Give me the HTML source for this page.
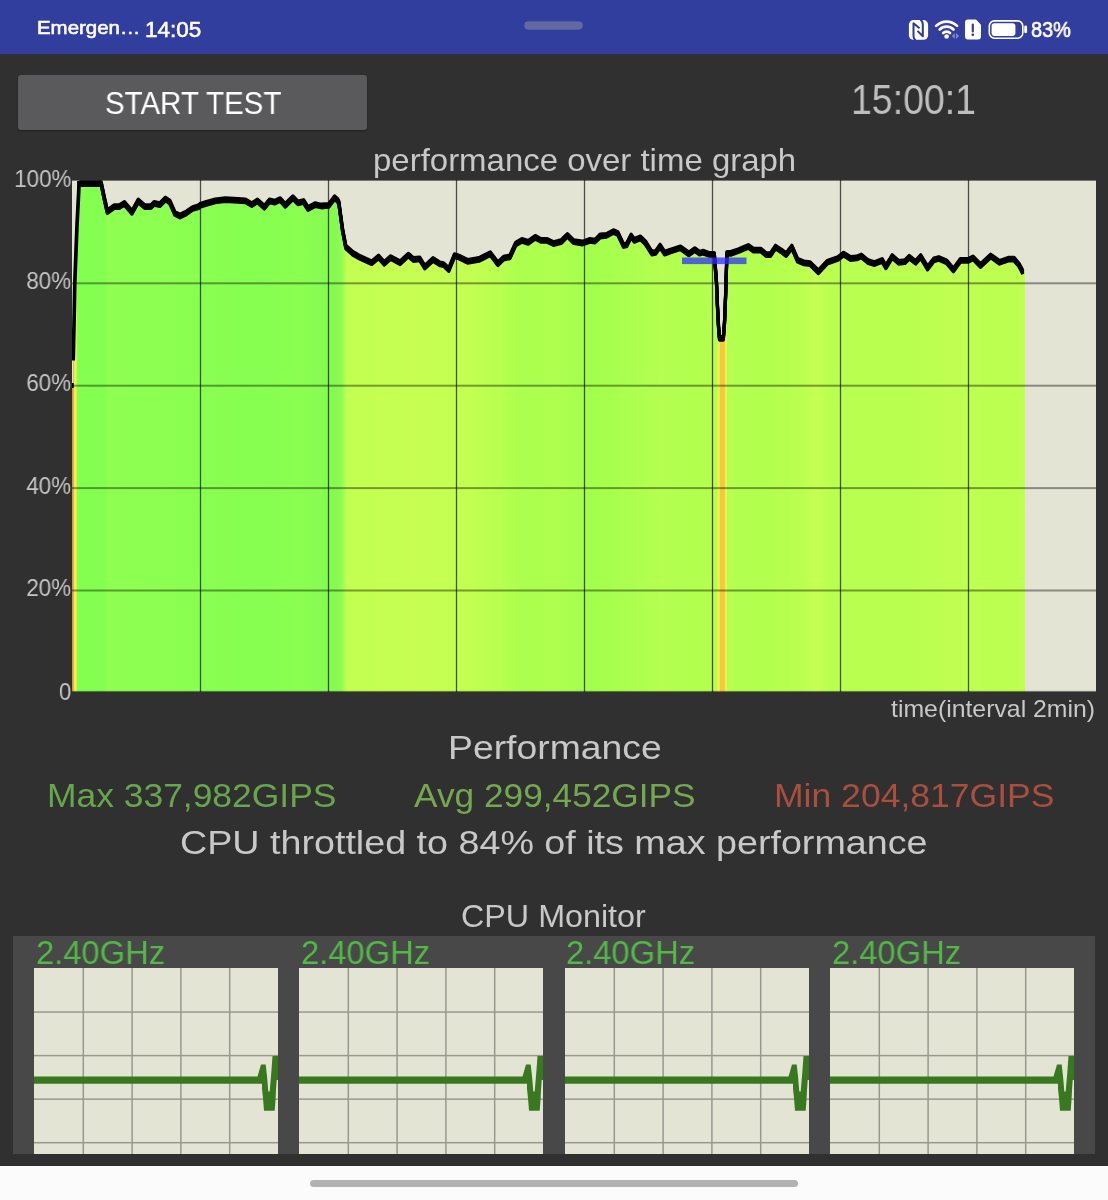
<!DOCTYPE html>
<html><head><meta charset="utf-8"><title>CPU Throttling Test</title>
<style>
*{margin:0;padding:0;box-sizing:border-box}
html,body{width:1108px;height:1200px;overflow:hidden;background:#303030}
body{position:relative;font-family:"Liberation Sans",sans-serif;color:#c8c8c8}
.abs{position:absolute;white-space:nowrap;line-height:1;transform-origin:0 50%;will-change:transform}
.status{position:absolute;left:0;top:0;width:1108px;height:53.5px;background:#313e9d}
.pill{position:absolute;left:525px;top:22px;width:57px;height:7px;border-radius:4px;background:#62699f;box-shadow:0 0 0 .6px #6c74b4}
.btn{position:absolute;left:18px;top:75px;width:349px;height:55px;border-radius:3px;background:#5a5a5c;box-shadow:0 1px 2px rgba(0,0,0,.35)}
.graph{position:absolute;left:72px;top:180px;display:block}
.ylab{position:absolute;white-space:nowrap;line-height:1;font-size:24px;color:#c6c6c6;right:1037.1px;transform:scaleX(.93);transform-origin:100% 50%;will-change:transform}
.panel{position:absolute;left:13px;top:936.3px;width:1082px;height:217.7px;background:#484848}
.mini{position:absolute;top:32.2px;width:244px;height:186px;overflow:hidden}
.mini svg{display:block}
.ghz{position:absolute;white-space:nowrap;line-height:1;top:-0.6px;font-size:33px;color:#52b846;transform:scaleX(.991);transform-origin:0 50%;will-change:transform}
.nav{position:absolute;left:0;top:1166px;width:1108px;height:34px;background:#fbfbfb}
.nav i{position:absolute;left:310px;top:13.5px;width:488px;height:7px;border-radius:4px;background:#b2b2b2}
</style></head><body>
<div class="status">
<div class="pill"></div>
<span class="abs" id="emer" style="left:36.6px;top:17.8px;font-size:19px;transform:scaleX(1.075);color:#fff;-webkit-text-stroke:.6px #fff;">Emergen…</span>
<span class="abs" id="clock" style="left:145.2px;top:19.1px;font-size:22px;transform:scaleX(1.02);color:#fff;-webkit-text-stroke:.6px #fff;">14:05</span>
<span class="abs" id="batt" style="left:1030.6px;top:19.1px;font-size:22px;transform:scaleX(0.902);color:#fff;-webkit-text-stroke:.6px #fff;">83%</span>
<svg class="abs" style="left:905px;top:14px" width="126" height="30" viewBox="905 14 126 30">
<rect x="908.9" y="20.1" width="19.2" height="19.7" rx="4.6" fill="#fff"/>
<path d="M915.6 40.3C914 39.2 913.5 37.8 913.5 36V23.3L919.5 28.2" fill="none" stroke="#2f3a94" stroke-width="2" stroke-linejoin="round"/>
<path d="M917.5 30.9L922.8 36.3V24C922.8 22.2 922.3 20.8 920.4 19.6" fill="none" stroke="#2f3a94" stroke-width="2" stroke-linejoin="round"/>
<path d="M936.1 25.9a14.9 14.9 0 0 1 21 0" fill="none" stroke="#fff" stroke-width="2.7" stroke-linecap="round"/>
<path d="M939.7 29.5a9.7 9.7 0 0 1 13.8 0" fill="none" stroke="#fff" stroke-width="2.7" stroke-linecap="round"/>
<path d="M943.2 33a4.8 4.8 0 0 1 6.8 0" fill="none" stroke="#fff" stroke-width="2.7" stroke-linecap="round"/>
<circle cx="946.6" cy="36.5" r="2.3" fill="#fff"/>
<path d="M954.9 33v6l-3.1-3zM956 33v6l3.1-3z" fill="#7f87cf"/>
<path d="M968 19.4h8l5 5.4v11.6a3 3 0 0 1-3 3h-10a3 3 0 0 1-3-3v-14a3 3 0 0 1 3-3z" fill="#fff"/>
<rect x="971.7" y="23.4" width="2.2" height="9.2" rx="1.1" fill="#313e9d"/><circle cx="972.8" cy="34.8" r="1.35" fill="#313e9d"/>
<rect x="989.3" y="20.9" width="33.5" height="17.3" rx="5.2" fill="none" stroke="#fff" stroke-width="1.6"/>
<rect x="991.6" y="23.2" width="23.8" height="12.7" rx="2.8" fill="#fff"/>
<rect x="1024.2" y="25.6" width="2.9" height="7.6" rx="1.4" fill="#fff"/>
</svg>
</div>
<div class="btn"></div>
<span class="abs" id="start" style="left:104.6px;top:87px;font-size:32px;transform:scaleX(0.921);color:#fff;">START TEST</span>
<span class="abs" id="timer" style="left:850.6px;top:79.3px;font-size:42px;transform:scaleX(0.892);color:#bebebe;">15:00:1</span>
<span class="abs" id="title" style="left:373.2px;top:144.2px;font-size:32px;transform:scaleX(1.03);">performance over time graph</span>
<span class="abs" id="tlabel" style="left:891.3px;top:696.6px;font-size:24px;transform:scaleX(1.034);">time(interval 2min)</span>
<span class="abs" id="perf" style="left:447.6px;top:730.4px;font-size:34px;transform:scaleX(1.098);">Performance</span>
<span class="abs" id="max" style="left:46.8px;top:778px;font-size:34px;transform:scaleX(1.0416);color:#66a64c;">Max 337,982GIPS</span>
<span class="abs" id="avg" style="left:414px;top:778px;font-size:34px;transform:scaleX(1.037);color:#74a850;">Avg 299,452GIPS</span>
<span class="abs" id="min" style="left:773.8px;top:778px;font-size:34px;transform:scaleX(1.045);color:#a94f3e;">Min 204,817GIPS</span>
<span class="abs" id="thr" style="left:180.2px;top:825px;font-size:34px;transform:scaleX(1.108);">CPU throttled to 84% of its max performance</span>
<span class="abs" id="mon" style="left:461.4px;top:900px;font-size:32px;transform:scaleX(1.009);">CPU Monitor</span>
<svg class="graph" width="1024" height="512" viewBox="0 0 1024 512">
<defs><linearGradient id="g" gradientUnits="userSpaceOnUse" x1="0" y1="0" x2="1024" y2="0"><stop offset="0.000%" stop-color="#e89040"/><stop offset="0.117%" stop-color="#e89040"/><stop offset="0.195%" stop-color="#f0e84c"/><stop offset="0.371%" stop-color="#eef454"/><stop offset="0.547%" stop-color="#84ff50"/><stop offset="3.125%" stop-color="#82ff50"/><stop offset="3.516%" stop-color="#8eff50"/><stop offset="8.594%" stop-color="#8cff50"/><stop offset="12.500%" stop-color="#8aff50"/><stop offset="17.383%" stop-color="#86ff50"/><stop offset="22.266%" stop-color="#8aff50"/><stop offset="25.781%" stop-color="#86fa52"/><stop offset="26.270%" stop-color="#8cfc50"/><stop offset="26.855%" stop-color="#c2ff50"/><stop offset="33.984%" stop-color="#c6ff52"/><stop offset="38.867%" stop-color="#c2ff50"/><stop offset="41.797%" stop-color="#b8ff50"/><stop offset="43.750%" stop-color="#acff4e"/><stop offset="47.656%" stop-color="#aeff4e"/><stop offset="50.586%" stop-color="#a2ff4c"/><stop offset="53.516%" stop-color="#aaff4e"/><stop offset="57.422%" stop-color="#b4ff50"/><stop offset="61.328%" stop-color="#b2ff4e"/><stop offset="62.891%" stop-color="#b8ff50"/><stop offset="62.988%" stop-color="#b8ff50"/><stop offset="63.105%" stop-color="#ecf650"/><stop offset="63.213%" stop-color="#f0f050"/><stop offset="63.301%" stop-color="#f5c840"/><stop offset="63.711%" stop-color="#f5c840"/><stop offset="63.789%" stop-color="#f0f050"/><stop offset="63.906%" stop-color="#e4f850"/><stop offset="64.004%" stop-color="#b4ff50"/><stop offset="67.188%" stop-color="#b2ff4e"/><stop offset="71.094%" stop-color="#baff50"/><stop offset="72.656%" stop-color="#c6ff54"/><stop offset="74.023%" stop-color="#baff50"/><stop offset="80.859%" stop-color="#b8ff50"/><stop offset="86.719%" stop-color="#c0ff52"/><stop offset="90.625%" stop-color="#bcff50"/><stop offset="93.066%" stop-color="#beff50"/></linearGradient>
<clipPath id="c"><rect x="0" y="0" width="1024" height="512"/></clipPath></defs>
<rect width="1024" height="512" fill="#e4e4d4"/>
<g clip-path="url(#c)">
<path d="M0.0,512.0 L0.0,206.0 L1.1,206.0 L1.1,180.5 L1.2,180.5 L2.0,145.0 L2.8,103.0 L5.0,45.0 L6.8,10.0 L7.0,3.0 L7.4,3.6 L29.2,3.6 L32.0,17.0 L35.3,31.6 L42.3,26.6 L47.3,26.6 L52.4,23.4 L60.0,32.3 L66.3,20.9 L72.6,26.6 L78.9,26.6 L82.1,23.4 L87.8,24.7 L93.5,19.0 L97.9,22.2 L102.9,33.5 L108.0,36.0 L114.3,32.9 L120.6,28.5 L126.9,26.6 L128.0,25.3 L134.3,23.4 L143.2,20.9 L153.3,19.6 L165.9,20.3 L173.5,20.9 L179.8,24.7 L185.5,20.9 L192.4,27.2 L197.5,20.9 L202.6,22.2 L208.2,19.6 L213.3,25.3 L220.9,17.7 L225.9,22.8 L231.6,21.5 L236.0,28.5 L243.0,24.7 L249.3,26.0 L256.9,25.3 L262.6,17.7 L265.5,20.3 L266.8,22.6 L270.6,50.4 L273.8,66.9 L280.7,73.2 L288.3,77.6 L299.7,82.7 L306.6,77.0 L312.3,83.3 L318.7,77.6 L328.1,82.7 L336.3,75.1 L341.4,79.5 L347.7,78.9 L352.8,87.1 L361.0,79.5 L367.9,83.9 L371.7,84.6 L376.8,89.6 L382.5,75.7 L386.9,77.0 L391.9,79.5 L395.6,81.3 L407.0,79.4 L418.3,73.7 L425.9,83.8 L431.6,78.1 L437.9,76.9 L443.6,64.2 L449.9,60.4 L456.2,62.3 L463.2,57.3 L468.9,60.4 L475.2,60.4 L481.5,63.6 L489.1,61.7 L495.4,55.4 L501.7,61.7 L510.6,63.0 L518.0,60.4 L523.0,61.1 L528.1,56.0 L534.4,55.4 L541.4,51.6 L545.8,53.5 L551.5,65.5 L554.6,64.9 L559.1,56.0 L562.2,60.4 L568.5,57.9 L573.6,63.0 L579.9,73.1 L583.7,72.4 L588.1,66.1 L592.6,73.1 L600.1,70.5 L608.5,67.8 L616.8,73.9 L622.8,69.7 L627.5,73.2 L630.9,72.1 L636.8,74.3 L642.3,74.5 L644.4,101.0 L645.5,127.0 L646.6,148.0 L647.5,158.4 L651.3,158.4 L652.4,145.0 L653.3,124.0 L654.1,101.0 L654.9,73.4 L658.7,73.4 L666.2,70.8 L676.3,66.4 L681.4,70.2 L689.0,70.2 L694.0,74.6 L698.5,74.6 L703.5,67.1 L709.2,70.8 L714.2,74.6 L719.9,67.1 L725.6,80.3 L731.9,82.9 L738.1,83.6 L746.3,91.8 L755.2,82.3 L765.9,78.5 L771.6,74.1 L778.5,78.5 L784.9,77.9 L789.3,76.0 L796.2,81.7 L802.6,83.6 L810.1,80.4 L813.9,86.8 L820.2,76.6 L826.6,82.3 L832.9,81.7 L837.3,77.3 L843.6,82.3 L848.7,76.6 L855.6,88.0 L861.9,79.8 L866.8,78.5 L874.4,81.7 L881.4,89.9 L888.3,80.4 L895.9,80.4 L901.0,77.9 L908.5,85.5 L918.7,76.0 L927.5,82.3 L936.3,79.2 L942.0,79.2 L947.0,85.0 L950.9,92.4 L953.0,92.4 L953.0,512.0 Z" fill="url(#g)"/>
<rect x="127.85" y="0" width="1.3" height="512" fill="#000" fill-opacity=".66"/><rect x="255.85" y="0" width="1.3" height="512" fill="#000" fill-opacity=".66"/><rect x="383.85" y="0" width="1.3" height="512" fill="#000" fill-opacity=".66"/><rect x="511.85" y="0" width="1.3" height="512" fill="#000" fill-opacity=".66"/><rect x="639.85" y="0" width="1.3" height="512" fill="#000" fill-opacity=".66"/><rect x="767.85" y="0" width="1.3" height="512" fill="#000" fill-opacity=".66"/><rect x="895.85" y="0" width="1.3" height="512" fill="#000" fill-opacity=".66"/><rect x="0" y="102.30" width="1024" height="2" fill="#000" fill-opacity=".4"/><rect x="0" y="204.70" width="1024" height="2" fill="#000" fill-opacity=".4"/><rect x="0" y="307.10" width="1024" height="2" fill="#000" fill-opacity=".4"/><rect x="0" y="409.50" width="1024" height="2" fill="#000" fill-opacity=".4"/><rect x="0" y="0" width="1024" height="0.8" fill="#000" fill-opacity=".6"/><rect x="0" y="510.9" width="1024" height="1.1" fill="#000" fill-opacity=".5"/>
<rect x="0" y="203" width="1.8" height="5" fill="#000"/>
<g fill="none" stroke="#000" stroke-width="3.2" stroke-linejoin="round" stroke-linecap="butt">
<path d="M1.2,180.5 L2.0,145.0 L2.8,103.0 L5.0,45.0 L6.8,10.0 L7.0,1.0" stroke-width="3.7"/>
<path d="M7.4,3.6 L29.2,3.6 L32.0,17.0 L35.3,31.6 L42.3,26.6 L47.3,26.6 L52.4,23.4 L60.0,32.3 L66.3,20.9 L72.6,26.6 L78.9,26.6 L82.1,23.4 L87.8,24.7 L93.5,19.0 L97.9,22.2 L102.9,33.5 L108.0,36.0 L114.3,32.9 L120.6,28.5 L126.9,26.6 L128.0,25.3 L134.3,23.4 L143.2,20.9 L153.3,19.6 L165.9,20.3 L173.5,20.9 L179.8,24.7 L185.5,20.9 L192.4,27.2 L197.5,20.9 L202.6,22.2 L208.2,19.6 L213.3,25.3 L220.9,17.7 L225.9,22.8 L231.6,21.5 L236.0,28.5 L243.0,24.7 L249.3,26.0 L256.9,25.3 L262.6,17.7 L265.5,20.3 L266.8,22.6 L270.6,50.4 L273.8,66.9 L280.7,73.2 L288.3,77.6 L299.7,82.7 L306.6,77.0 L312.3,83.3 L318.7,77.6 L328.1,82.7 L336.3,75.1 L341.4,79.5 L347.7,78.9 L352.8,87.1 L361.0,79.5 L367.9,83.9 L371.7,84.6 L376.8,89.6 L382.5,75.7 L386.9,77.0 L391.9,79.5 L395.6,81.3 L407.0,79.4 L418.3,73.7 L425.9,83.8 L431.6,78.1 L437.9,76.9 L443.6,64.2 L449.9,60.4 L456.2,62.3 L463.2,57.3 L468.9,60.4 L475.2,60.4 L481.5,63.6 L489.1,61.7 L495.4,55.4 L501.7,61.7 L510.6,63.0 L518.0,60.4 L523.0,61.1 L528.1,56.0 L534.4,55.4 L541.4,51.6 L545.8,53.5 L551.5,65.5 L554.6,64.9 L559.1,56.0 L562.2,60.4 L568.5,57.9 L573.6,63.0 L579.9,73.1 L583.7,72.4 L588.1,66.1 L592.6,73.1 L600.1,70.5 L608.5,67.8 L616.8,73.9 L622.8,69.7 L627.5,73.2 L630.9,72.1 L636.8,74.3 L642.3,74.5 L644.4,101.0 L645.5,127.0 L646.6,148.0 L647.5,158.4 L651.3,158.4 L652.4,145.0 L653.3,124.0 L654.1,101.0 L654.9,73.4 L658.7,73.4 L666.2,70.8 L676.3,66.4 L681.4,70.2 L689.0,70.2 L694.0,74.6 L698.5,74.6 L703.5,67.1 L709.2,70.8 L714.2,74.6 L719.9,67.1 L725.6,80.3 L731.9,82.9 L738.1,83.6 L746.3,91.8 L755.2,82.3 L765.9,78.5 L771.6,74.1 L778.5,78.5 L784.9,77.9 L789.3,76.0 L796.2,81.7 L802.6,83.6 L810.1,80.4 L813.9,86.8 L820.2,76.6 L826.6,82.3 L832.9,81.7 L837.3,77.3 L843.6,82.3 L848.7,76.6 L855.6,88.0 L861.9,79.8 L866.8,78.5 L874.4,81.7 L881.4,89.9 L888.3,80.4 L895.9,80.4 L901.0,77.9 L908.5,85.5 L918.7,76.0 L927.5,82.3 L936.3,79.2 L942.0,79.2 L947.0,85.0 L950.9,92.4" transform="translate(0 -1.8)"/><path d="M7.4,3.6 L29.2,3.6 L32.0,17.0 L35.3,31.6 L42.3,26.6 L47.3,26.6 L52.4,23.4 L60.0,32.3 L66.3,20.9 L72.6,26.6 L78.9,26.6 L82.1,23.4 L87.8,24.7 L93.5,19.0 L97.9,22.2 L102.9,33.5 L108.0,36.0 L114.3,32.9 L120.6,28.5 L126.9,26.6 L128.0,25.3 L134.3,23.4 L143.2,20.9 L153.3,19.6 L165.9,20.3 L173.5,20.9 L179.8,24.7 L185.5,20.9 L192.4,27.2 L197.5,20.9 L202.6,22.2 L208.2,19.6 L213.3,25.3 L220.9,17.7 L225.9,22.8 L231.6,21.5 L236.0,28.5 L243.0,24.7 L249.3,26.0 L256.9,25.3 L262.6,17.7 L265.5,20.3 L266.8,22.6 L270.6,50.4 L273.8,66.9 L280.7,73.2 L288.3,77.6 L299.7,82.7 L306.6,77.0 L312.3,83.3 L318.7,77.6 L328.1,82.7 L336.3,75.1 L341.4,79.5 L347.7,78.9 L352.8,87.1 L361.0,79.5 L367.9,83.9 L371.7,84.6 L376.8,89.6 L382.5,75.7 L386.9,77.0 L391.9,79.5 L395.6,81.3 L407.0,79.4 L418.3,73.7 L425.9,83.8 L431.6,78.1 L437.9,76.9 L443.6,64.2 L449.9,60.4 L456.2,62.3 L463.2,57.3 L468.9,60.4 L475.2,60.4 L481.5,63.6 L489.1,61.7 L495.4,55.4 L501.7,61.7 L510.6,63.0 L518.0,60.4 L523.0,61.1 L528.1,56.0 L534.4,55.4 L541.4,51.6 L545.8,53.5 L551.5,65.5 L554.6,64.9 L559.1,56.0 L562.2,60.4 L568.5,57.9 L573.6,63.0 L579.9,73.1 L583.7,72.4 L588.1,66.1 L592.6,73.1 L600.1,70.5 L608.5,67.8 L616.8,73.9 L622.8,69.7 L627.5,73.2 L630.9,72.1 L636.8,74.3 L642.3,74.5 L644.4,101.0 L645.5,127.0 L646.6,148.0 L647.5,158.4 L651.3,158.4 L652.4,145.0 L653.3,124.0 L654.1,101.0 L654.9,73.4 L658.7,73.4 L666.2,70.8 L676.3,66.4 L681.4,70.2 L689.0,70.2 L694.0,74.6 L698.5,74.6 L703.5,67.1 L709.2,70.8 L714.2,74.6 L719.9,67.1 L725.6,80.3 L731.9,82.9 L738.1,83.6 L746.3,91.8 L755.2,82.3 L765.9,78.5 L771.6,74.1 L778.5,78.5 L784.9,77.9 L789.3,76.0 L796.2,81.7 L802.6,83.6 L810.1,80.4 L813.9,86.8 L820.2,76.6 L826.6,82.3 L832.9,81.7 L837.3,77.3 L843.6,82.3 L848.7,76.6 L855.6,88.0 L861.9,79.8 L866.8,78.5 L874.4,81.7 L881.4,89.9 L888.3,80.4 L895.9,80.4 L901.0,77.9 L908.5,85.5 L918.7,76.0 L927.5,82.3 L936.3,79.2 L942.0,79.2 L947.0,85.0 L950.9,92.4" transform="translate(0 -0.9)"/><path d="M7.4,3.6 L29.2,3.6 L32.0,17.0 L35.3,31.6 L42.3,26.6 L47.3,26.6 L52.4,23.4 L60.0,32.3 L66.3,20.9 L72.6,26.6 L78.9,26.6 L82.1,23.4 L87.8,24.7 L93.5,19.0 L97.9,22.2 L102.9,33.5 L108.0,36.0 L114.3,32.9 L120.6,28.5 L126.9,26.6 L128.0,25.3 L134.3,23.4 L143.2,20.9 L153.3,19.6 L165.9,20.3 L173.5,20.9 L179.8,24.7 L185.5,20.9 L192.4,27.2 L197.5,20.9 L202.6,22.2 L208.2,19.6 L213.3,25.3 L220.9,17.7 L225.9,22.8 L231.6,21.5 L236.0,28.5 L243.0,24.7 L249.3,26.0 L256.9,25.3 L262.6,17.7 L265.5,20.3 L266.8,22.6 L270.6,50.4 L273.8,66.9 L280.7,73.2 L288.3,77.6 L299.7,82.7 L306.6,77.0 L312.3,83.3 L318.7,77.6 L328.1,82.7 L336.3,75.1 L341.4,79.5 L347.7,78.9 L352.8,87.1 L361.0,79.5 L367.9,83.9 L371.7,84.6 L376.8,89.6 L382.5,75.7 L386.9,77.0 L391.9,79.5 L395.6,81.3 L407.0,79.4 L418.3,73.7 L425.9,83.8 L431.6,78.1 L437.9,76.9 L443.6,64.2 L449.9,60.4 L456.2,62.3 L463.2,57.3 L468.9,60.4 L475.2,60.4 L481.5,63.6 L489.1,61.7 L495.4,55.4 L501.7,61.7 L510.6,63.0 L518.0,60.4 L523.0,61.1 L528.1,56.0 L534.4,55.4 L541.4,51.6 L545.8,53.5 L551.5,65.5 L554.6,64.9 L559.1,56.0 L562.2,60.4 L568.5,57.9 L573.6,63.0 L579.9,73.1 L583.7,72.4 L588.1,66.1 L592.6,73.1 L600.1,70.5 L608.5,67.8 L616.8,73.9 L622.8,69.7 L627.5,73.2 L630.9,72.1 L636.8,74.3 L642.3,74.5 L644.4,101.0 L645.5,127.0 L646.6,148.0 L647.5,158.4 L651.3,158.4 L652.4,145.0 L653.3,124.0 L654.1,101.0 L654.9,73.4 L658.7,73.4 L666.2,70.8 L676.3,66.4 L681.4,70.2 L689.0,70.2 L694.0,74.6 L698.5,74.6 L703.5,67.1 L709.2,70.8 L714.2,74.6 L719.9,67.1 L725.6,80.3 L731.9,82.9 L738.1,83.6 L746.3,91.8 L755.2,82.3 L765.9,78.5 L771.6,74.1 L778.5,78.5 L784.9,77.9 L789.3,76.0 L796.2,81.7 L802.6,83.6 L810.1,80.4 L813.9,86.8 L820.2,76.6 L826.6,82.3 L832.9,81.7 L837.3,77.3 L843.6,82.3 L848.7,76.6 L855.6,88.0 L861.9,79.8 L866.8,78.5 L874.4,81.7 L881.4,89.9 L888.3,80.4 L895.9,80.4 L901.0,77.9 L908.5,85.5 L918.7,76.0 L927.5,82.3 L936.3,79.2 L942.0,79.2 L947.0,85.0 L950.9,92.4" transform="translate(0 0)"/><path d="M7.4,3.6 L29.2,3.6 L32.0,17.0 L35.3,31.6 L42.3,26.6 L47.3,26.6 L52.4,23.4 L60.0,32.3 L66.3,20.9 L72.6,26.6 L78.9,26.6 L82.1,23.4 L87.8,24.7 L93.5,19.0 L97.9,22.2 L102.9,33.5 L108.0,36.0 L114.3,32.9 L120.6,28.5 L126.9,26.6 L128.0,25.3 L134.3,23.4 L143.2,20.9 L153.3,19.6 L165.9,20.3 L173.5,20.9 L179.8,24.7 L185.5,20.9 L192.4,27.2 L197.5,20.9 L202.6,22.2 L208.2,19.6 L213.3,25.3 L220.9,17.7 L225.9,22.8 L231.6,21.5 L236.0,28.5 L243.0,24.7 L249.3,26.0 L256.9,25.3 L262.6,17.7 L265.5,20.3 L266.8,22.6 L270.6,50.4 L273.8,66.9 L280.7,73.2 L288.3,77.6 L299.7,82.7 L306.6,77.0 L312.3,83.3 L318.7,77.6 L328.1,82.7 L336.3,75.1 L341.4,79.5 L347.7,78.9 L352.8,87.1 L361.0,79.5 L367.9,83.9 L371.7,84.6 L376.8,89.6 L382.5,75.7 L386.9,77.0 L391.9,79.5 L395.6,81.3 L407.0,79.4 L418.3,73.7 L425.9,83.8 L431.6,78.1 L437.9,76.9 L443.6,64.2 L449.9,60.4 L456.2,62.3 L463.2,57.3 L468.9,60.4 L475.2,60.4 L481.5,63.6 L489.1,61.7 L495.4,55.4 L501.7,61.7 L510.6,63.0 L518.0,60.4 L523.0,61.1 L528.1,56.0 L534.4,55.4 L541.4,51.6 L545.8,53.5 L551.5,65.5 L554.6,64.9 L559.1,56.0 L562.2,60.4 L568.5,57.9 L573.6,63.0 L579.9,73.1 L583.7,72.4 L588.1,66.1 L592.6,73.1 L600.1,70.5 L608.5,67.8 L616.8,73.9 L622.8,69.7 L627.5,73.2 L630.9,72.1 L636.8,74.3 L642.3,74.5 L644.4,101.0 L645.5,127.0 L646.6,148.0 L647.5,158.4 L651.3,158.4 L652.4,145.0 L653.3,124.0 L654.1,101.0 L654.9,73.4 L658.7,73.4 L666.2,70.8 L676.3,66.4 L681.4,70.2 L689.0,70.2 L694.0,74.6 L698.5,74.6 L703.5,67.1 L709.2,70.8 L714.2,74.6 L719.9,67.1 L725.6,80.3 L731.9,82.9 L738.1,83.6 L746.3,91.8 L755.2,82.3 L765.9,78.5 L771.6,74.1 L778.5,78.5 L784.9,77.9 L789.3,76.0 L796.2,81.7 L802.6,83.6 L810.1,80.4 L813.9,86.8 L820.2,76.6 L826.6,82.3 L832.9,81.7 L837.3,77.3 L843.6,82.3 L848.7,76.6 L855.6,88.0 L861.9,79.8 L866.8,78.5 L874.4,81.7 L881.4,89.9 L888.3,80.4 L895.9,80.4 L901.0,77.9 L908.5,85.5 L918.7,76.0 L927.5,82.3 L936.3,79.2 L942.0,79.2 L947.0,85.0 L950.9,92.4" transform="translate(0 0.9)"/><path d="M7.4,3.6 L29.2,3.6 L32.0,17.0 L35.3,31.6 L42.3,26.6 L47.3,26.6 L52.4,23.4 L60.0,32.3 L66.3,20.9 L72.6,26.6 L78.9,26.6 L82.1,23.4 L87.8,24.7 L93.5,19.0 L97.9,22.2 L102.9,33.5 L108.0,36.0 L114.3,32.9 L120.6,28.5 L126.9,26.6 L128.0,25.3 L134.3,23.4 L143.2,20.9 L153.3,19.6 L165.9,20.3 L173.5,20.9 L179.8,24.7 L185.5,20.9 L192.4,27.2 L197.5,20.9 L202.6,22.2 L208.2,19.6 L213.3,25.3 L220.9,17.7 L225.9,22.8 L231.6,21.5 L236.0,28.5 L243.0,24.7 L249.3,26.0 L256.9,25.3 L262.6,17.7 L265.5,20.3 L266.8,22.6 L270.6,50.4 L273.8,66.9 L280.7,73.2 L288.3,77.6 L299.7,82.7 L306.6,77.0 L312.3,83.3 L318.7,77.6 L328.1,82.7 L336.3,75.1 L341.4,79.5 L347.7,78.9 L352.8,87.1 L361.0,79.5 L367.9,83.9 L371.7,84.6 L376.8,89.6 L382.5,75.7 L386.9,77.0 L391.9,79.5 L395.6,81.3 L407.0,79.4 L418.3,73.7 L425.9,83.8 L431.6,78.1 L437.9,76.9 L443.6,64.2 L449.9,60.4 L456.2,62.3 L463.2,57.3 L468.9,60.4 L475.2,60.4 L481.5,63.6 L489.1,61.7 L495.4,55.4 L501.7,61.7 L510.6,63.0 L518.0,60.4 L523.0,61.1 L528.1,56.0 L534.4,55.4 L541.4,51.6 L545.8,53.5 L551.5,65.5 L554.6,64.9 L559.1,56.0 L562.2,60.4 L568.5,57.9 L573.6,63.0 L579.9,73.1 L583.7,72.4 L588.1,66.1 L592.6,73.1 L600.1,70.5 L608.5,67.8 L616.8,73.9 L622.8,69.7 L627.5,73.2 L630.9,72.1 L636.8,74.3 L642.3,74.5 L644.4,101.0 L645.5,127.0 L646.6,148.0 L647.5,158.4 L651.3,158.4 L652.4,145.0 L653.3,124.0 L654.1,101.0 L654.9,73.4 L658.7,73.4 L666.2,70.8 L676.3,66.4 L681.4,70.2 L689.0,70.2 L694.0,74.6 L698.5,74.6 L703.5,67.1 L709.2,70.8 L714.2,74.6 L719.9,67.1 L725.6,80.3 L731.9,82.9 L738.1,83.6 L746.3,91.8 L755.2,82.3 L765.9,78.5 L771.6,74.1 L778.5,78.5 L784.9,77.9 L789.3,76.0 L796.2,81.7 L802.6,83.6 L810.1,80.4 L813.9,86.8 L820.2,76.6 L826.6,82.3 L832.9,81.7 L837.3,77.3 L843.6,82.3 L848.7,76.6 L855.6,88.0 L861.9,79.8 L866.8,78.5 L874.4,81.7 L881.4,89.9 L888.3,80.4 L895.9,80.4 L901.0,77.9 L908.5,85.5 L918.7,76.0 L927.5,82.3 L936.3,79.2 L942.0,79.2 L947.0,85.0 L950.9,92.4" transform="translate(0 1.8)"/>
</g>
<rect x="610" y="77.5" width="64.5" height="6.6" fill="#2c2cff" fill-opacity=".74"/>
</g></svg>
<span class="ylab" style="top:166.5px">100%</span>
<span class="ylab" style="top:268.9px">80%</span>
<span class="ylab" style="top:371.3px">60%</span>
<span class="ylab" style="top:473.7px">40%</span>
<span class="ylab" style="top:576.1px">20%</span>
<span class="ylab" style="top:679.8px">0</span>
<div class="panel"><div class="ghz" style="left:22.6px">2.40GHz</div><div class="mini" style="left:21.0px"><svg width="244" height="186" viewBox="0 0 244 186"><rect width="244" height="186" fill="#e4e4d4"/><rect x="48.55" y="0" width="1.5" height="186" fill="#98988f"/><rect x="97.35" y="0" width="1.5" height="186" fill="#98988f"/><rect x="146.15" y="0" width="1.5" height="186" fill="#98988f"/><rect x="194.95" y="0" width="1.5" height="186" fill="#98988f"/><rect x="0" y="43.30" width="244" height="1.5" fill="#98988f"/><rect x="0" y="86.85" width="244" height="1.5" fill="#98988f"/><rect x="0" y="130.40" width="244" height="1.5" fill="#98988f"/><rect x="0" y="173.95" width="244" height="1.5" fill="#98988f"/><polygon points="0,108.5 223.5,108.5 227,96.5 231.7,96.5 233,108 234.3,123.5 235.7,123.5 237.3,104.5 238.5,88 244,88 244,112 242.7,112 242,122 241.5,132 240.7,142.8 230,142.8 229,130 228,121 228,115.8 0,115.8" fill="#38781f"/></svg></div><div class="ghz" style="left:288.0px">2.40GHz</div><div class="mini" style="left:286.4px"><svg width="244" height="186" viewBox="0 0 244 186"><rect width="244" height="186" fill="#e4e4d4"/><rect x="48.55" y="0" width="1.5" height="186" fill="#98988f"/><rect x="97.35" y="0" width="1.5" height="186" fill="#98988f"/><rect x="146.15" y="0" width="1.5" height="186" fill="#98988f"/><rect x="194.95" y="0" width="1.5" height="186" fill="#98988f"/><rect x="0" y="43.30" width="244" height="1.5" fill="#98988f"/><rect x="0" y="86.85" width="244" height="1.5" fill="#98988f"/><rect x="0" y="130.40" width="244" height="1.5" fill="#98988f"/><rect x="0" y="173.95" width="244" height="1.5" fill="#98988f"/><polygon points="0,108.5 223.5,108.5 227,96.5 231.7,96.5 233,108 234.3,123.5 235.7,123.5 237.3,104.5 238.5,88 244,88 244,112 242.7,112 242,122 241.5,132 240.7,142.8 230,142.8 229,130 228,121 228,115.8 0,115.8" fill="#38781f"/></svg></div><div class="ghz" style="left:553.4px">2.40GHz</div><div class="mini" style="left:551.8px"><svg width="244" height="186" viewBox="0 0 244 186"><rect width="244" height="186" fill="#e4e4d4"/><rect x="48.55" y="0" width="1.5" height="186" fill="#98988f"/><rect x="97.35" y="0" width="1.5" height="186" fill="#98988f"/><rect x="146.15" y="0" width="1.5" height="186" fill="#98988f"/><rect x="194.95" y="0" width="1.5" height="186" fill="#98988f"/><rect x="0" y="43.30" width="244" height="1.5" fill="#98988f"/><rect x="0" y="86.85" width="244" height="1.5" fill="#98988f"/><rect x="0" y="130.40" width="244" height="1.5" fill="#98988f"/><rect x="0" y="173.95" width="244" height="1.5" fill="#98988f"/><polygon points="0,108.5 223.5,108.5 227,96.5 231.7,96.5 233,108 234.3,123.5 235.7,123.5 237.3,104.5 238.5,88 244,88 244,112 242.7,112 242,122 241.5,132 240.7,142.8 230,142.8 229,130 228,121 228,115.8 0,115.8" fill="#38781f"/></svg></div><div class="ghz" style="left:818.8px">2.40GHz</div><div class="mini" style="left:817.2px"><svg width="244" height="186" viewBox="0 0 244 186"><rect width="244" height="186" fill="#e4e4d4"/><rect x="48.55" y="0" width="1.5" height="186" fill="#98988f"/><rect x="97.35" y="0" width="1.5" height="186" fill="#98988f"/><rect x="146.15" y="0" width="1.5" height="186" fill="#98988f"/><rect x="194.95" y="0" width="1.5" height="186" fill="#98988f"/><rect x="0" y="43.30" width="244" height="1.5" fill="#98988f"/><rect x="0" y="86.85" width="244" height="1.5" fill="#98988f"/><rect x="0" y="130.40" width="244" height="1.5" fill="#98988f"/><rect x="0" y="173.95" width="244" height="1.5" fill="#98988f"/><polygon points="0,108.5 223.5,108.5 227,96.5 231.7,96.5 233,108 234.3,123.5 235.7,123.5 237.3,104.5 238.5,88 244,88 244,112 242.7,112 242,122 241.5,132 240.7,142.8 230,142.8 229,130 228,121 228,115.8 0,115.8" fill="#38781f"/></svg></div></div>
<div class="nav"><i></i></div>
</body></html>
